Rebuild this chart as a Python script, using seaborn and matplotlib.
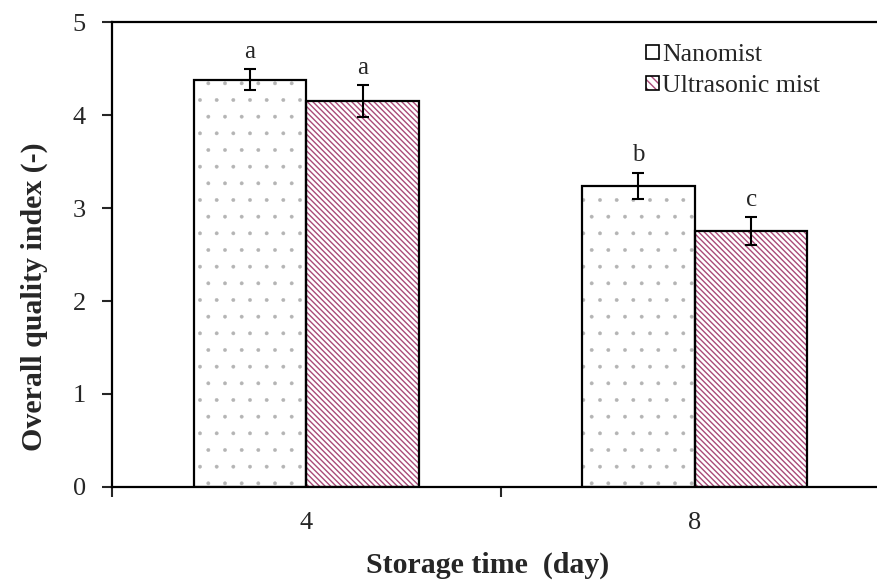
import numpy as np
import pandas as pd
import matplotlib
matplotlib.use('Agg')
import matplotlib.pyplot as plt
from matplotlib.patches import Patch, Rectangle
import seaborn as sns

# 数据
days = ['4', '8']
methods = ['Nanomist', 'Ultrasonic mist']
nanomist_mean = [4.38, 3.24]
nanomist_err = [0.11, 0.14]
ultrasonic_mean = [4.15, 2.75]
ultrasonic_err = [0.17, 0.15]
nanomist_letters = ['a', 'b']
ultrasonic_letters = ['a', 'c']

df = pd.DataFrame({
    'day': days * 2,
    'method': [methods[0]] * 2 + [methods[1]] * 2,
    'oqi': nanomist_mean + ultrasonic_mean,
})
errs = [nanomist_err, ultrasonic_err]
letters = [nanomist_letters, ultrasonic_letters]

sns.set_style('ticks')
plt.rcParams['font.family'] = ['Liberation Serif', 'DejaVu Serif']
plt.rcParams['hatch.linewidth'] = 1.0

fig = plt.figure(figsize=(8.78, 5.87), dpi=100)
ax = fig.add_axes([0.1276, 0.1704, 0.885, 0.792])

sns.barplot(data=df, x='day', y='oqi', hue='method', hue_order=methods,
            order=days, width=0.58, errorbar=None, legend=False, ax=ax)

hatches = ['.', '\\' * 6]
hatch_cols = ['#b4b4b4', '#a94a78']
hatch_lws = [0.3, 1.0]
bar_conts = list(ax.containers)  # 先存下来，后面 errorbar 会往里加
for i, cont in enumerate(bar_conts):
    for j, bar in enumerate(cont):
        bar.set_facecolor('white')
        bar.set_hatch(hatches[i])
        bar.set_edgecolor(hatch_cols[i])
        bar.set_linewidth(0)
        if hasattr(bar, 'set_hatch_linewidth'):
            bar.set_hatch_linewidth(hatch_lws[i])
        # 黑色外框
        ax.add_patch(Rectangle(bar.get_xy(), bar.get_width(), bar.get_height(),
                               fill=False, ec='black', lw=1.6, zorder=3))
        xc = bar.get_x() + bar.get_width() / 2
        top = bar.get_height()
        ax.errorbar(xc, top, yerr=errs[i][j], fmt='none', ecolor='black',
                    elinewidth=1.5, capsize=4, capthick=1.5, zorder=4)
        ax.text(xc, top + errs[i][j] + 0.07, letters[i][j], ha='center',
                va='bottom', fontsize=18)

ax.set_ylim(0, 5)
ax.set_xlim(-0.5, 1.5)
ax.set_yticks([0, 1, 2, 3, 4, 5])
ax.tick_params(axis='y', direction='out', length=7, width=1.5, labelsize=19, pad=12)
ax.tick_params(axis='x', which='major', length=0, labelsize=19, pad=18)
ax.set_xticks([-0.5, 0.5, 1.5], minor=True)
ax.tick_params(axis='x', which='minor', direction='out', length=7, width=1.5)
for s in ax.spines.values():
    s.set_linewidth(1.6)
    s.set_color('black')

ax.set_xlabel('Storage time  (day)', fontsize=21.5, fontweight='bold', va='center')
ax.set_ylabel('Overall quality index (-)', fontsize=21.5, fontweight='bold', va='center')
ax.xaxis.set_label_coords(0.483, -0.168)
ax.yaxis.set_label_coords(-0.1, 0.41)

# 图例
h1 = (Patch(facecolor='white', edgecolor='black', lw=1.2),)
h2 = (Patch(facecolor='white', hatch='\\' * 4, edgecolor=hatch_cols[1], lw=0),
      Patch(fill=False, edgecolor='black', lw=1.2))
ax.legend([h1, h2], methods, loc='upper left', bbox_to_anchor=(0.674, 0.975),
          frameon=False, fontsize=18.5, handlelength=0.5, handleheight=0.5,
          handletextpad=0.12, labelspacing=0.36, borderaxespad=0)

fig.savefig('out.png', dpi=100)
